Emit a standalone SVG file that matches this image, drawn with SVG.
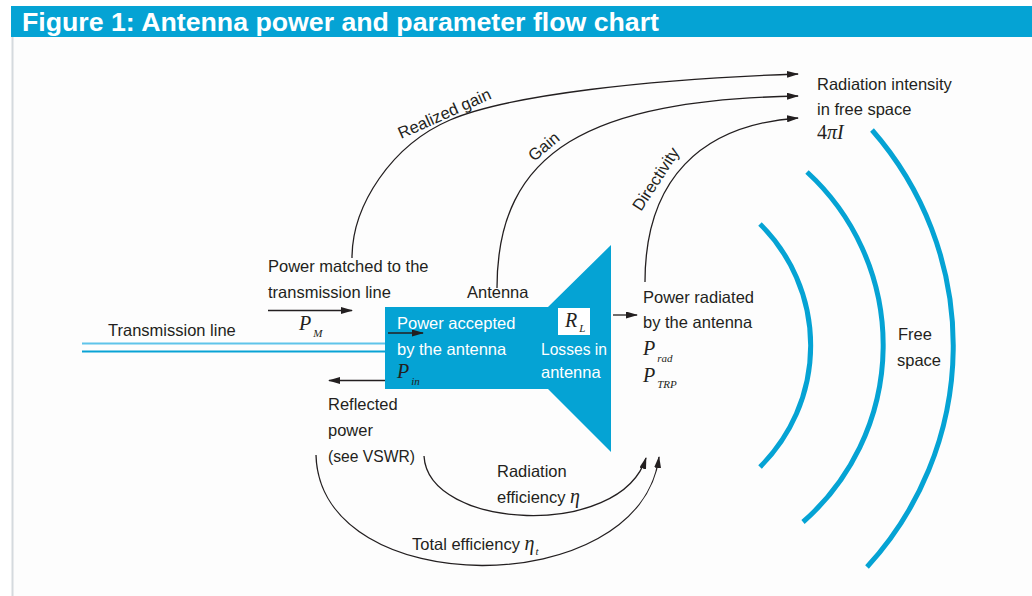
<svg xmlns="http://www.w3.org/2000/svg" width="1032" height="596" viewBox="0 0 1032 596">
<defs>
<style>
.t{font-family:"Liberation Sans",Arial,sans-serif;font-size:16.5px;fill:#231f20}
.w{fill:#ffffff}
.m{font-family:"Liberation Serif","Times New Roman",serif;font-style:italic;font-size:20px;fill:#231f20}
.s{font-size:11px}
.c{fill:none;stroke:#231f20;stroke-width:1.3}
.wave{fill:none;stroke:#05a3d4;stroke-width:5}
.ttl{font-family:"Liberation Sans",Arial,sans-serif;font-weight:bold;font-size:25px;fill:#ffffff}
</style>
<marker id="ah" viewBox="0 0 12 7" markerWidth="12" markerHeight="7" refX="11" refY="3.5" orient="auto" markerUnits="userSpaceOnUse"><path d="M0,0 L12,3.5 L0,7 Z" fill="#231f20"/></marker>
</defs>
<rect x="0" y="0" width="1032" height="596" fill="#ffffff"/>
<rect x="12" y="37" width="1020" height="559" fill="#fdfdfd"/>
<line x1="12.5" y1="37" x2="12.5" y2="596" stroke="#d5dade" stroke-width="2"/>
<g id="title">
<rect x="11" y="6" width="1021" height="31" fill="#05a3d4"/>
<text class="ttl" x="22" y="31" textLength="637" lengthAdjust="spacingAndGlyphs">Figure 1: Antenna power and parameter flow chart</text>
</g>
<g id="transmission-line">
<line x1="82" y1="343.5" x2="386" y2="343.5" stroke="#5fc4ea" stroke-width="1.8"/>
<line x1="82" y1="351.5" x2="386" y2="351.5" stroke="#0aa3d5" stroke-width="1.8"/>
<text class="t" x="108" y="336">Transmission line</text>
</g>
<g id="antenna">
<path d="M385,307 L548,307 L611,245 L611,452 L548,389 L385,389 Z" fill="#05a3d4"/>
<text class="t" x="467" y="298">Antenna</text>
<text class="t w" x="397" y="329">Power accepted</text>
<text class="t w" x="397" y="355">by the antenna</text>
<text class="m w" x="397" y="378">P<tspan class="s" dx="2" dy="7">in</tspan></text>
<rect x="558" y="308" width="32" height="27" fill="#ffffff"/>
<text class="m" x="565" y="327">R<tspan class="s" dx="2" dy="5">L</tspan></text>
<text class="t w" x="541" y="355" textLength="66" lengthAdjust="spacingAndGlyphs">Losses in</text>
<text class="t w" x="541" y="378">antenna</text>
</g>
<g id="power-matched">
<text class="t" x="268" y="272">Power matched to the</text>
<text class="t" x="268" y="298">transmission line</text>
<text class="m" x="299" y="330">P<tspan class="s" dx="2" dy="7">M</tspan></text>
</g>
<g id="reflected">
<text class="t" x="328" y="410">Reflected</text>
<text class="t" x="328" y="436">power</text>
<text class="t" x="328" y="462" textLength="87" lengthAdjust="spacingAndGlyphs">(see VSWR)</text>
</g>
<g id="power-radiated">
<text class="t" x="643" y="303">Power radiated</text>
<text class="t" x="643" y="328">by the antenna</text>
<text class="m" x="643" y="355">P<tspan class="s" dx="2" dy="7">rad</tspan></text>
<text class="m" x="643" y="382">P<tspan class="s" dx="2" dy="6">TRP</tspan></text>
</g>
<g id="radiation-intensity">
<text class="t" x="817" y="90">Radiation intensity</text>
<text class="t" x="817" y="115">in free space</text>
<text class="m" x="817" y="139"><tspan font-style="normal">4</tspan>πI</text>
</g>
<g id="free-space">
<path class="wave" d="M760,224 A171,171 0 0 1 760,467"/>
<path class="wave" d="M807,172 A235,235 0 0 1 803,522"/>
<path class="wave" d="M872,130 A327,327 0 0 1 867,567"/>
<text class="t" x="898" y="340">Free</text>
<text class="t" x="897" y="366">space</text>
</g>
<g id="connectors">
<line class="c" x1="268" y1="310.5" x2="352" y2="310.5" marker-end="url(#ah)"/>
<line class="c" x1="388" y1="333" x2="423" y2="333" marker-end="url(#ah)"/>
<line class="c" x1="385" y1="380.5" x2="329" y2="380.5" marker-end="url(#ah)"/>
<line class="c" x1="613" y1="315" x2="637" y2="315" marker-end="url(#ah)"/>
<path class="c" d="M352,258 C352,205 392,145 450,120 C508,95 650,79 798,74" marker-end="url(#ah)"/>
<path class="c" d="M497,288 C497,150 590,100 798,96" marker-end="url(#ah)"/>
<path class="c" d="M645,282 C645,180 700,125 798,118" marker-end="url(#ah)"/>
<path class="c" d="M424,456 C428,530 620,540 646,458" marker-end="url(#ah)"/>
<path class="c" d="M316,455 C320,602 640,602 659,457" marker-end="url(#ah)"/>
<text class="t" transform="translate(401,139) rotate(-24)">Realized gain</text>
<text class="t" transform="translate(534,162) rotate(-40)">Gain</text>
<text class="t" transform="translate(641,212) rotate(-57)">Directivity</text>
<text class="t" x="497" y="477">Radiation</text>
<text class="t" x="497" y="503">efficiency <tspan class="m" font-size="19px">η</tspan></text>
<text class="t" x="412" y="550">Total efficiency <tspan class="m" font-size="19px">η</tspan><tspan class="m s" dx="1" dy="5">t</tspan></text>
</g>
</svg>
